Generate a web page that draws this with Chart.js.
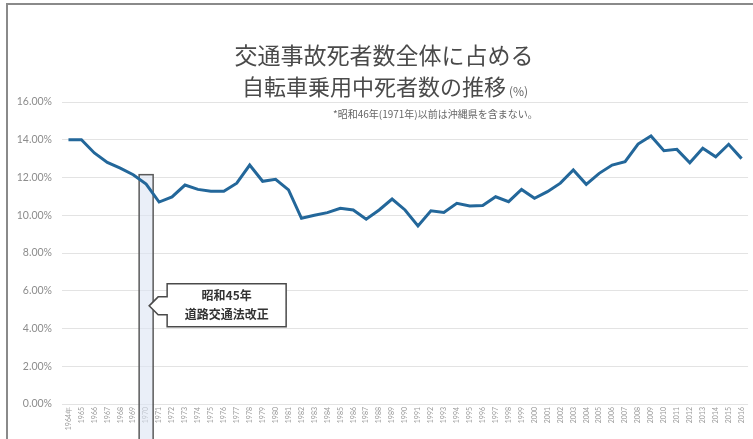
<!DOCTYPE html>
<html lang="ja">
<head>
<meta charset="utf-8">
<script src="https://cdn.jsdelivr.net/npm/chart.js@4.4.1/dist/chart.umd.min.js"></script>
<style>
  html, body { margin: 0; padding: 0; background: #fff; }
  #wrap { width: 753px; height: 439px; position: relative; }
</style>
</head>
<body>
<div id="wrap"><canvas id="chart-jitensha" width="753" height="439"></canvas></div>
<script>
// 年 (1964〜2016)
const years = [
    '1964年', '1965', '1966', '1967', '1968', '1969', '1970', '1971', '1972', '1973',
    '1974', '1975', '1976', '1977', '1978', '1979', '1980', '1981', '1982', '1983',
    '1984', '1985', '1986', '1987', '1988', '1989', '1990', '1991', '1992', '1993',
    '1994', '1995', '1996', '1997', '1998', '1999', '2000', '2001', '2002', '2003',
    '2004', '2005', '2006', '2007', '2008', '2009', '2010', '2011', '2012', '2013',
    '2014', '2015', '2016'
];

// 自転車乗用中死者の割合 (%)
const ratio = [
    14.0, 14.0, 13.3, 12.8, 12.5, 12.15, 11.65, 10.7, 10.97, 11.6,
    11.37, 11.27, 11.27, 11.7, 12.66, 11.8, 11.9, 11.34, 9.84, 10.0,
    10.14, 10.37, 10.28, 9.79, 10.28, 10.86, 10.28, 9.43, 10.24, 10.15,
    10.63, 10.49, 10.52, 10.98, 10.72, 11.37, 10.9, 11.25, 11.7, 12.4,
    11.64, 12.22, 12.66, 12.84, 13.77, 14.2, 13.42, 13.49, 12.78, 13.55,
    13.1, 13.76, 13.0
];

const yTicks = [0, 2, 4, 6, 8, 10, 12, 14, 16];

// 道路交通法改正の年
const kaiseiYear = '1970';
const kaiseiTop = 12.15;
const titleLines = ['交通事故死者数全体に占める', '自転車乗用中死者数の推移'];
const noteText = '*昭和46年(1971年)以前は沖縄県を含まない。';
const calloutLines = ['昭和45年', '道路交通法改正'];

const JP = '"Noto Sans CJK JP", "Noto Sans", sans-serif';

const decor = {
    id: 'decor',
    beforeDraw(chart) {
        const ctx = chart.ctx;
        ctx.save();
        // 枠線
        ctx.strokeStyle = '#8a8a8a';
        ctx.lineWidth = 2;
        ctx.beginPath();
        ctx.moveTo(7, chart.height);
        ctx.lineTo(7, 4);
        ctx.lineTo(chart.width, 4);
        ctx.stroke();

        // タイトル
        ctx.fillStyle = '#4a4a4a';
        ctx.textBaseline = 'middle';
        ctx.textAlign = 'center';
        ctx.font = '23px ' + JP;
        ctx.fillText(titleLines[0], 384, 55);

        ctx.font = '22px ' + JP;
        const w2 = ctx.measureText(titleLines[1]).width;
        ctx.font = '12px ' + JP;
        const wp = ctx.measureText('(%)').width;
        const x0 = 385 - (w2 + wp + 3) / 2;
        ctx.textAlign = 'left';
        ctx.font = '22px ' + JP;
        ctx.fillText(titleLines[1], x0, 87);
        ctx.fillStyle = '#666';
        ctx.font = '12px ' + JP;
        ctx.fillText('(%)', x0 + w2 + 3, 91);

        // 注記
        ctx.fillStyle = '#666';
        ctx.font = '10px ' + JP;
        ctx.fillText(noteText, 333, 114);
        ctx.restore();
    },
    beforeDatasetsDraw(chart) {
        const ctx = chart.ctx;
        const xs = chart.scales.x, ys = chart.scales.y;
        const cx = xs.getPixelForValue(years.indexOf(kaiseiYear));
        const top = ys.getPixelForValue(kaiseiTop);
        ctx.save();
        ctx.fillStyle = 'rgba(220, 228, 244, 0.6)';
        ctx.strokeStyle = '#5a5a5a';
        ctx.lineWidth = 1.5;
        ctx.fillRect(cx - 7, top, 14, chart.height - top + 2);
        ctx.strokeRect(cx - 7, top, 14, chart.height - top + 2);
        ctx.restore();
    },
    afterDatasetsDraw(chart) {
        const ctx = chart.ctx;
        const xs = chart.scales.x, ys = chart.scales.y;
        const tipX = xs.getPixelForValue(years.indexOf(kaiseiYear)) + 3;
        const tipY = ys.getPixelForValue(5.2);
        const left = tipX + 18, right = left + 119;
        const top = tipY - 22, bottom = tipY + 21;
        ctx.save();
        ctx.fillStyle = '#fff';
        ctx.strokeStyle = '#4a4a4a';
        ctx.lineWidth = 1.5;
        ctx.beginPath();
        ctx.moveTo(left, top);
        ctx.lineTo(right, top);
        ctx.lineTo(right, bottom);
        ctx.lineTo(left, bottom);
        ctx.lineTo(left, tipY + 9);
        ctx.lineTo(tipX + 9, tipY + 9);
        ctx.lineTo(tipX, tipY);
        ctx.lineTo(tipX + 9, tipY - 9);
        ctx.lineTo(left, tipY - 9);
        ctx.closePath();
        ctx.fill();
        ctx.stroke();

        ctx.fillStyle = '#333';
        ctx.textAlign = 'center';
        ctx.textBaseline = 'middle';
        ctx.font = 'bold 12px ' + JP;
        const mid = (left + right) / 2;
        ctx.fillText(calloutLines[0], mid, tipY - 10);
        ctx.fillText(calloutLines[1], mid, tipY + 9);
        ctx.restore();
    }
};

const chart = new Chart(document.getElementById('chart-jitensha').getContext('2d'), {
    type: 'line',
    data: {
        labels: years,
        datasets: [{
            data: ratio,
            borderColor: '#23679a',
            borderWidth: 3,
            pointRadius: 0,
            tension: 0,
            fill: false
        }]
    },
    options: {
        responsive: false,
        animation: false,
        layout: {
            padding: { top: 102, right: 1, left: 0, bottom: 0 }
        },
        scales: {
            x: {
                offset: true,
                grid: { display: false, drawTicks: false },
                border: { display: false },
                ticks: {
                    autoSkip: false,
                    minRotation: 90,
                    maxRotation: 90,
                    padding: 3,
                    color: '#9a9a9a',
                    font: { size: 7, family: 'Lato, sans-serif' }
                },
                afterFit(scale) { scale.height = 35; }
            },
            y: {
                min: 0,
                max: 16,
                afterBuildTicks(scale) {
                    scale.ticks = yTicks.map(v => ({ value: v }));
                },
                grid: { color: '#e3e3e3', lineWidth: 1, drawTicks: false },
                border: { display: false },
                ticks: {
                    padding: 10,
                    color: '#8c8c8c',
                    font: { size: 10.5, family: 'Lato, sans-serif' },
                    callback: v => v.toFixed(2) + '%'
                },
                afterFit(scale) { scale.width = 62; }
            }
        },
        plugins: {
            legend: { display: false },
            title: { display: false },
            tooltip: { enabled: false }
        }
    },
    plugins: [decor]
});
</script>
</body>
</html>
